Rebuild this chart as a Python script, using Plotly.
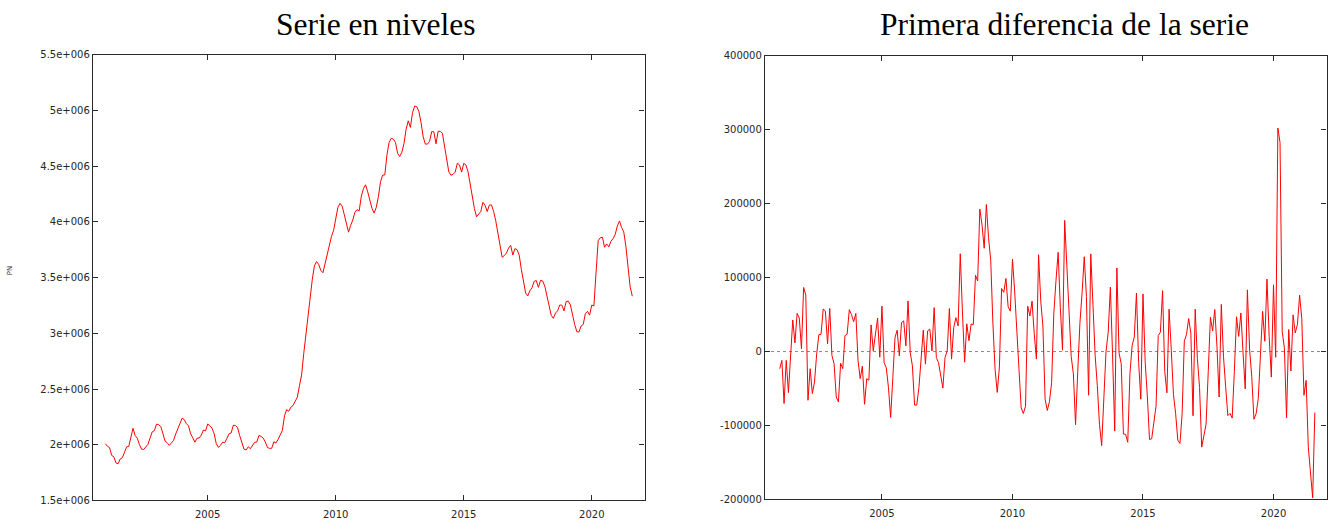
import numpy as np
import plotly.graph_objects as go

# Monthly series PN, January 2001 - August 2021 (one list per year)
pn_2001 = [2010000, 1986800, 1974800, 1904500, 1892500, 1837000, 1830000, 1872700, 1884500, 1936100, 1981500, 1985200]
pn_2002 = [2071800, 2148200, 2082300, 2059100, 2002200, 1961000, 1958000, 1980900, 2004300, 2061800, 2116600, 2127000]
pn_2003 = [2185300, 2180000, 2163500, 2102100, 2033900, 2018100, 1994900, 2016500, 2039900, 2096500, 2146400, 2186800]
pn_2004 = [2238400, 2226400, 2189700, 2170000, 2098700, 2062000, 2023200, 2059200, 2060200, 2087200, 2132600, 2125000]
pn_2005 = [2186400, 2171400, 2149400, 2100400, 2011200, 1976100, 1995000, 2023900, 2018100, 2057300, 2098800, 2106500]
pn_2006 = [2175000, 2173700, 2154400, 2082000, 2009600, 1961000, 1952900, 1981800, 1964800, 1992800, 2023100, 2024000]
pn_2007 = [2083400, 2075300, 2060400, 2025300, 1975900, 1967800, 1968700, 2026800, 2016500, 2048900, 2094800, 2129500]
pn_2008 = [2261787, 2315331, 2300975, 2338517, 2353161, 2390403, 2426811, 2530001, 2625368, 2818026, 2989269, 3128963]
pn_2009 = [3327801, 3481859, 3605402, 3644041, 3620139, 3564889, 3544105, 3629333, 3709447, 3808353, 3868946, 3923603]
pn_2010 = [4048493, 4130625, 4166613, 4142425, 4066202, 3982368, 3908261, 3969661, 4017763, 4085976, 4110294, 4100073]
pn_2011 = [4231003, 4299263, 4333669, 4269360, 4189659, 4121801, 4079742, 4130927, 4226744, 4360926, 4420462, 4422359]
pn_2012 = [4599829, 4712098, 4750867, 4744235, 4714122, 4615269, 4587455, 4625634, 4705279, 4833521, 4907817, 4848723]
pn_2013 = [4980778, 5040222, 5035243, 4989193, 4890928, 4763680, 4698814, 4698783, 4724355, 4811383, 4808908, 4701338]
pn_2014 = [4814435, 4812486, 4795866, 4684301, 4572385, 4449701, 4419860, 4427930, 4447650, 4526804, 4512153, 4447711]
pn_2015 = [4525691, 4512116, 4451939, 4333016, 4215031, 4120304, 4046276, 4067955, 4094042, 4176369, 4149298, 4093508]
pn_2016 = [4150710, 4152986, 4094770, 4011171, 3891403, 3767054, 3683061, 3697496, 3720297, 3764982, 3789823, 3702974]
pn_2017 = [3760231, 3750876, 3702317, 3573036, 3461128, 3362811, 3335924, 3382324, 3410182, 3467026, 3474281, 3412781]
pn_2018 = [3476528, 3470248, 3422551, 3335868, 3252130, 3162162, 3135021, 3182068, 3202509, 3254703, 3252867, 3202297]
pn_2019 = [3285761, 3289040, 3255084, 3163566, 3079491, 3015686, 3011433, 3065804, 3079711, 3177659, 3198184, 3163605]
pn_2020 = [3253853, 3246047, 3548312, 3831203, 3857776, 3862883, 3773034, 3802814, 3776485, 3826043, 3851312, 3888137]
pn_2021 = [3964353, 4008789, 3949640, 3910628, 3781250, 3614339, 3416498, 3333915]

first_year = 2001

level_ticks = [1.5e6, 2.0e6, 2.5e6, 3.0e6, 3.5e6, 4.0e6, 4.5e6, 5.0e6, 5.5e6]
level_labels = ["1.5e+006", "2e+006", "2.5e+006", "3e+006", "3.5e+006",
                "4e+006", "4.5e+006", "5e+006", "5.5e+006"]
diff_ticks = [-200000, -100000, 0, 100000, 200000, 300000, 400000]
diff_labels = ["-200000", "-100000", "0", "100000", "200000", "300000", "400000"]
year_ticks = [2005, 2010, 2015, 2020]

# ---------------------------------------------------------------------------
yearly = [pn_2001, pn_2002, pn_2003, pn_2004, pn_2005, pn_2006, pn_2007,
          pn_2008, pn_2009, pn_2010, pn_2011, pn_2012, pn_2013, pn_2014,
          pn_2015, pn_2016, pn_2017, pn_2018, pn_2019, pn_2020, pn_2021]
levels = np.concatenate([np.array(v, dtype=float) for v in yearly])
t = first_year + np.arange(len(levels)) / 12.0
d_levels = np.diff(levels)
t_diff = t[1:]

W, H = 1331, 520
# plot-area boxes in pixels (left, right, top, bottom)
box1 = (93, 644.5, 50.9, 506.2)
box2 = (765, 1326.5, 51.9, 505.1)


def xdom(b):
    return [b[0] / W, b[1] / W]


def ydom(b):
    return [1 - b[3] / H, 1 - b[2] / H]


RED = "#ff0000"
AX = "#2a2a2a"
tick_font = dict(family="DejaVu Sans, sans-serif", size=10, color="#262626")

fig = go.Figure()
fig.add_trace(go.Scatter(x=t, y=levels, mode="lines",
                         line=dict(color=RED, width=1), xaxis="x", yaxis="y",
                         showlegend=False, hoverinfo="x+y"))
fig.add_trace(go.Scatter(x=t_diff, y=d_levels, mode="lines",
                         line=dict(color=RED, width=1), xaxis="x2", yaxis="y2",
                         showlegend=False, hoverinfo="x+y"))

common_axis = dict(showline=True, linecolor=AX, linewidth=1.3, mirror="ticks",
                   ticks="inside", ticklen=5, tickwidth=1, tickcolor=AX,
                   showgrid=False, zeroline=False, tickfont=tick_font)
x_extra = dict(ticklabelstandoff=4)

fig.update_layout(
    width=W, height=H,
    margin=dict(l=0, r=0, t=0, b=0),
    paper_bgcolor="white", plot_bgcolor="white",
    xaxis=dict(domain=xdom(box1), range=[2000.52, 2022.06], tickmode="array",
               tickvals=year_ticks, ticktext=[str(v) for v in year_ticks],
               anchor="y", **common_axis, **x_extra),
    yaxis=dict(domain=ydom(box1), range=[1.5e6, 5.5e6], tickmode="array",
               tickvals=level_ticks, ticktext=level_labels, anchor="x",
               **common_axis),
    xaxis2=dict(domain=xdom(box2), range=[2000.52, 2022.03], tickmode="array",
                tickvals=year_ticks, ticktext=[str(v) for v in year_ticks],
                anchor="y2", **common_axis, **x_extra),
    yaxis2=dict(domain=ydom(box2), range=[-200000, 400000], tickmode="array",
                tickvals=diff_ticks, ticktext=diff_labels, anchor="x2",
                **common_axis),
)

# dotted zero reference in the differences panel
fig.add_shape(type="line", xref="x2 domain", yref="y2", x0=0, x1=1, y0=0, y1=0,
              line=dict(color="#8a8a8a", width=1, dash="dot"), layer="below")

title_font = dict(family="Liberation Serif, Times New Roman, serif", size=31.5,
                  color="black")
fig.add_annotation(text="Serie en niveles", x=375 / W, y=1 - 19.5 / H,
                   xref="paper", yref="paper", xanchor="center",
                   yanchor="middle", showarrow=False, font=title_font)
fig.add_annotation(text="Primera diferencia de la serie", x=1064 / W,
                   y=1 - 19.5 / H, xref="paper", yref="paper", xanchor="center",
                   yanchor="middle", showarrow=False, font=title_font)
fig.add_annotation(text="PN", x=10 / W, y=1 - 272 / H, xref="paper",
                   yref="paper", xanchor="center", yanchor="middle",
                   textangle=-90, showarrow=False,
                   font=dict(family="DejaVu Sans, sans-serif", size=7,
                             color="#303030"))

fig.write_html("out.html")
